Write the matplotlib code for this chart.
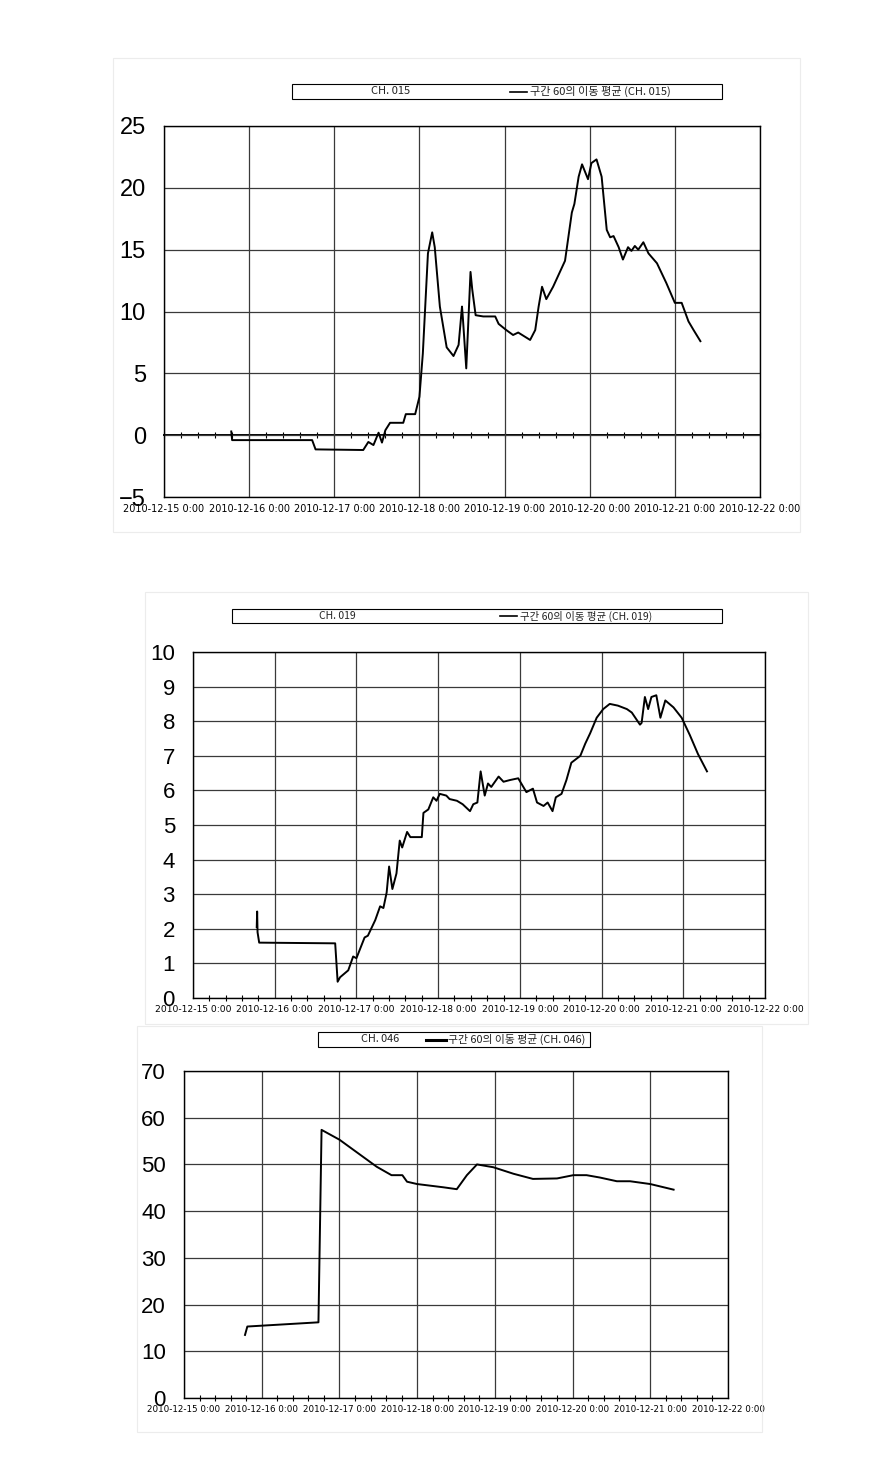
import numpy as np
import pandas as pd
import matplotlib
matplotlib.use('Agg')
import matplotlib.pyplot as plt
import matplotlib.dates as mdates
from matplotlib.ticker import MultipleLocator, FuncFormatter, FixedLocator
from matplotlib.lines import Line2D
from matplotlib.patches import Rectangle

# ── Data (time = days after 2010-12-15 0:00) ─────────────────────────────────
ch015_t = [0.79, 0.80, 1.74, 1.78, 2.34, 2.40, 2.46, 2.52, 2.56, 2.60, 2.655, 2.81,
           2.84, 2.95, 3.00, 3.04, 3.10, 3.15, 3.18, 3.24, 3.32, 3.40, 3.46, 3.50,
           3.51, 3.55, 3.57, 3.60, 3.62, 3.66, 3.75, 3.89, 3.93, 4.02, 4.10, 4.16,
           4.30, 4.36, 4.40, 4.44, 4.49, 4.57, 4.71, 4.79, 4.82, 4.87, 4.91, 4.98,
           5.02, 5.08, 5.14, 5.20, 5.24, 5.28, 5.34, 5.39, 5.45, 5.49, 5.53, 5.57,
           5.63, 5.69, 5.79, 5.90, 6.00, 6.08, 6.16, 6.22, 6.30]
ch015_v = [0.3, -0.4, -0.4, -1.15, -1.2, -0.55, -0.8, 0.2, -0.6, 0.4, 1.0, 1.0,
           1.7, 1.7, 3.1, 6.6, 14.7, 16.4, 15.2, 10.4, 7.1, 6.4, 7.3, 10.4,
           9.5, 5.4, 8.5, 13.2, 11.8, 9.7, 9.6, 9.6, 9.0, 8.5, 8.1, 8.3,
           7.7, 8.5, 10.4, 12.0, 11.0, 12.0, 14.1, 18.0, 18.7, 20.9, 21.9, 20.7,
           22.0, 22.3, 20.9, 16.6, 16.0, 16.1, 15.2, 14.2, 15.2, 14.9, 15.3, 15.0,
           15.6, 14.7, 13.9, 12.3, 10.7, 10.7, 9.2, 8.5, 7.6]

ch019_t = [0.78, 0.785, 0.79, 0.81, 1.74, 1.77, 1.80, 1.90, 1.96, 2.00,
           2.10, 2.14, 2.23, 2.29, 2.33, 2.37, 2.40, 2.44, 2.49, 2.53,
           2.56, 2.62, 2.66, 2.80, 2.82, 2.88, 2.94, 2.98, 3.02, 3.10,
           3.14, 3.23, 3.30, 3.39, 3.43, 3.48, 3.52, 3.57, 3.61, 3.65,
           3.74, 3.80, 3.88, 3.98, 4.08, 4.16, 4.21, 4.29, 4.34, 4.40,
           4.44, 4.51, 4.57, 4.63, 4.74, 4.80, 4.86, 4.94, 5.02, 5.10,
           5.20, 5.31, 5.37, 5.47, 5.49, 5.53, 5.57, 5.61, 5.67, 5.72,
           5.78, 5.88, 5.98, 6.08, 6.18, 6.29]
ch019_v = [2.05, 2.5, 1.9, 1.6, 1.58, 0.47, 0.6, 0.8, 1.2, 1.15,
           1.75, 1.8, 2.25, 2.65, 2.6, 3.05, 3.8, 3.15, 3.6, 4.55,
           4.35, 4.8, 4.65, 4.65, 5.35, 5.45, 5.8, 5.7, 5.9, 5.85,
           5.75, 5.7, 5.6, 5.4, 5.6, 5.65, 6.55, 5.85, 6.2, 6.1,
           6.4, 6.25, 6.3, 6.35, 5.95, 6.05, 5.65, 5.55, 5.65, 5.4,
           5.8, 5.9, 6.3, 6.8, 7.0, 7.35, 7.65, 8.1, 8.35, 8.5,
           8.45, 8.35, 8.25, 7.9, 7.95, 8.7, 8.35, 8.7, 8.75, 8.1,
           8.6, 8.4, 8.1, 7.6, 7.05, 6.55]

ch046_t = [0.785, 0.815, 1.73, 1.77, 2.00, 2.48, 2.67, 2.81, 2.87, 3.00, 3.34, 3.51,
           3.64, 3.77, 3.98, 4.24, 4.49, 4.80, 5.01, 5.18, 5.35, 5.57, 5.74, 6.00, 6.30]
ch046_v = [13.5, 15.3, 16.2, 57.4, 55.3, 49.5, 47.7, 47.7, 46.3, 45.8, 45.1, 44.7,
           47.7, 50.0, 49.4, 48.0, 46.9, 47.0, 47.7, 47.7, 47.2, 46.4, 46.4, 45.8, 44.6]

channels = ["015", "019", "046"]
ylims = [(-5, 25), (0, 10), (0, 70)]
ysteps = [5, 1, 10]

# ── Layout (pixels of the 880x1476 figure) ────────────────────────────────────
W, H = 880, 1476
START = pd.Timestamp("2010-12-15")
X0 = mdates.date2num(START)
X1 = mdates.date2num(START + pd.Timedelta(days=7))

axes_px = [(164, 126, 760, 497), (193, 652, 765, 998), (184, 1071, 728, 1398)]
legend_px = [
    # box (l, t, r, b), name center x, line x0, x1, label x, line width
    ((292, 84, 722, 99), 391, 510, 527, 530, 1.2),
    ((232, 609, 722, 623), 337, 500, 517, 520, 1.2),
    ((318, 1032, 590, 1047), 380, 426, 446, 448, 2.2),
]
frame_px = [(113, 58, 800, 532), (145, 592, 808, 1024), (137, 1026, 762, 1432)]
ytick_fs = [17, 16, 16]
xtick_fs = [7, 6.6, 6.3]
leg_fs = [8, 7.5, 7.8]

GRID = "#3a3a3a"
KR = ['Noto Sans CJK KR', 'DejaVu Sans']
NUM = ['Liberation Sans', 'DejaVu Sans']
NARROW = ['Liberation Sans Narrow', 'DejaVu Sans']


def fx(x):
    return x / W


def fy(y):
    return 1 - y / H


def date_label(v, pos=None):
    d = mdates.num2date(v)
    return f"{d:%Y-%m-%d} {d.hour}:{d:%M}"


fig = plt.figure(figsize=(W / 100, H / 100), dpi=100, facecolor="white")

series = [(ch015_t, ch015_v), (ch019_t, ch019_v), (ch046_t, ch046_v)]

for i, ch in enumerate(channels):
    # faint outer frame of the pasted chart
    l, t, r, b = frame_px[i]
    fig.add_artist(Rectangle((fx(l), fy(b)), fx(r - l), (b - t) / H,
                             transform=fig.transFigure, fill=False,
                             edgecolor="#ececec", lw=0.8))

    l, t, r, b = axes_px[i]
    ax = fig.add_axes([fx(l), fy(b), fx(r - l), (b - t) / H])
    tt, vv = series[i]
    x = mdates.date2num(START + pd.to_timedelta(tt, unit="D"))
    ax.plot(x, vv, color="black", lw=1.4, zorder=5)

    ymin, ymax = ylims[i]
    ax.set_xlim(X0, X1)
    ax.set_ylim(ymin, ymax)

    ax.xaxis.set_major_locator(MultipleLocator(1))
    ax.xaxis.set_major_formatter(FuncFormatter(date_label))
    ax.yaxis.set_major_locator(MultipleLocator(ysteps[i]))
    ax.grid(True, which="major", color=GRID, lw=0.9)
    ax.set_axisbelow(True)
    for sp in ax.spines.values():
        sp.set_color("black")
        sp.set_linewidth(1.0)

    ax.tick_params(axis="y", length=0, pad=13, labelsize=ytick_fs[i])
    ax.tick_params(axis="x", which="major", length=0, pad=5, labelsize=xtick_fs[i])
    for lab in ax.get_yticklabels():
        lab.set_family(NUM)
    for lab in ax.get_xticklabels():
        lab.set_family(NARROW)

    if ymin < 0:
        # category axis crosses at 0: zero line with its minor ticks
        sec = ax.secondary_xaxis((0 - ymin) / (ymax - ymin))
        sec.spines["bottom"].set_linewidth(1.4)
        sec.xaxis.set_major_locator(FixedLocator([]))
        sec.xaxis.set_minor_locator(MultipleLocator(0.2))
        sec.tick_params(which="minor", direction="inout", length=5, width=0.8)
    else:
        ax.xaxis.set_minor_locator(MultipleLocator(0.2))
        ax.tick_params(axis="x", which="minor", direction="inout", length=5, width=0.8)

    # legend box
    (bl, bt, br, bb), name_x, lx0, lx1, lab_x, llw = legend_px[i]
    fig.add_artist(Rectangle((fx(bl), fy(bb)), fx(br - bl), (bb - bt) / H,
                             transform=fig.transFigure, fill=False,
                             edgecolor="black", lw=0.8))
    ymid = fy((bt + bb) / 2)
    fig.text(fx(name_x), ymid, f"CH. {ch}", family=KR, fontsize=leg_fs[i],
             ha="center", va="center", color="#222222")
    fig.add_artist(Line2D([fx(lx0), fx(lx1)], [ymid, ymid], transform=fig.transFigure,
                          color="black", lw=llw))
    fig.text(fx(lab_x), ymid, f"구간 60의 이동 평균 (CH. {ch})", family=KR,
             fontsize=leg_fs[i], ha="left", va="center", color="#222222")

fig.savefig("out.png", dpi=100, facecolor="white")
